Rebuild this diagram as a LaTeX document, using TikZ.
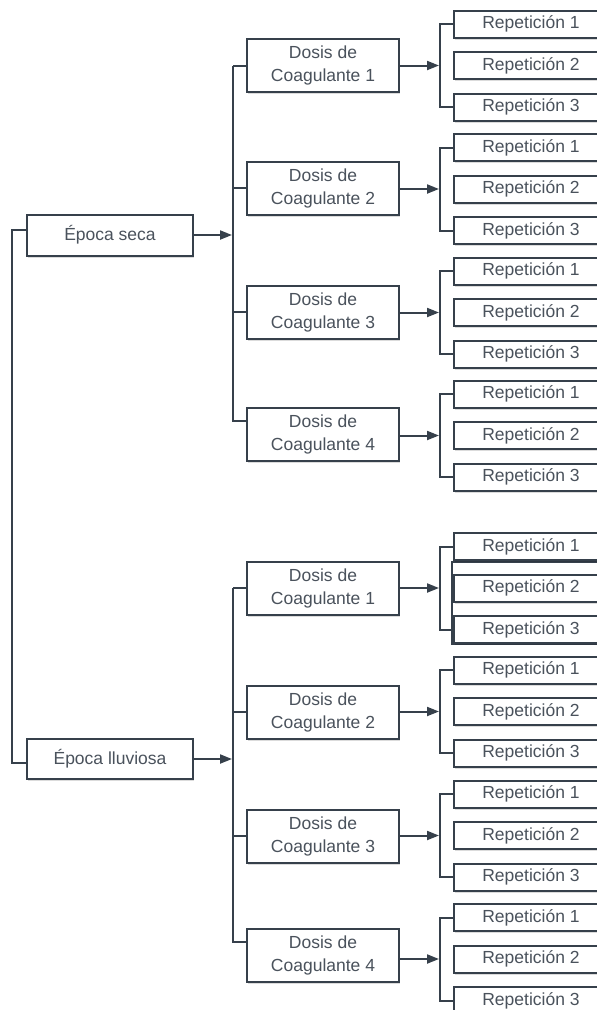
\documentclass[tikz,border=0pt]{standalone}
\usepackage{fontspec}
\setmainfont{Liberation Sans}
\usetikzlibrary{arrows.meta,shadows,calc}
\definecolor{ln}{HTML}{36404B}
\definecolor{tx}{HTML}{4A525C}
\begin{document}
\begin{tikzpicture}[x=1pt,y=-1pt,
  box/.style={draw=ln, line width=2pt, fill=white, text=tx,
    font=\fontsize{17.5}{23}\selectfont, inner sep=0pt,
    drop shadow={shadow xshift=0.8pt, shadow yshift=-2pt, opacity=0.14, fill=black}},
  epoca/.style={box, minimum width=166pt, minimum height=41pt},
  dosis/.style={box, minimum width=152pt, minimum height=53pt, align=center},
  rep/.style={box, minimum width=154pt, minimum height=27pt, anchor=west},
  conn/.style={draw=ln, line width=2pt},
  arr/.style={conn, -{Triangle[length=12pt,width=9pt]}}]
\useasboundingbox (0,0) rectangle (597,1010);
\clip (0,0) rectangle (597,1010);
\fill[white] (0,0) rectangle (597,1010);

% main epochs
\node[epoca] (s) at (110,235) {Época seca};
\node[epoca, minimum height=40pt] (l) at (110,759) {Época lluviosa};
\draw[conn] ($(s.west)+(0,-5)$) -- ++(-14,0) coordinate (m) |- ($(l.west)+(0,4)$);

% extra frame drawn in the reference around the first lower group
\draw[conn] (452,562) rectangle (620,644);

% dosis: name / center y / stub y / first rep y
\foreach \g/\i/\dy/\sy/\ry in {a/1/65.5/65.5/24, a/2/188/188/147.5, a/3/312/312/271, a/4/434/421/394,
                               b/1/588/588/546.5, b/2/712/712/670, b/3/836/836/794, b/4/955/942/917.5} {
  \node[dosis] (d\g\i) at (323,\dy) {Dosis de\\Coagulante \i};
  \foreach \r in {1,2,3} {
    \pgfmathsetmacro\yy{\ry+41.5*(\r-1)}
    \node[rep] (r\g\i\r) at (453,\yy) {Repetición \r};
  }
  \draw[conn] (r\g\i1.west) -- ++(-13,0) coordinate (k\g\i) |- (r\g\i3.west);
  \draw[arr] (d\g\i.east |- r\g\i2.west) -- ($(k\g\i |- r\g\i2.west)+(-1,0)$);
  \coordinate (st\g\i) at (233,\sy);
}

% dosis brackets
\foreach \g/\e in {a/s, b/l} {
  \draw[conn] (st\g1) -- (d\g1.west |- st\g1);
  \draw[conn] (st\g1) -- (st\g4) -- (d\g4.west |- st\g4);
  \draw[conn] (st\g2) -- (d\g2.west |- st\g2);
  \draw[conn] (st\g3) -- (d\g3.west |- st\g3);
  \draw[arr] (\e.east) -- ($(st\g1 |- \e.east)+(-1,0)$);
}
\end{tikzpicture}
\end{document}
